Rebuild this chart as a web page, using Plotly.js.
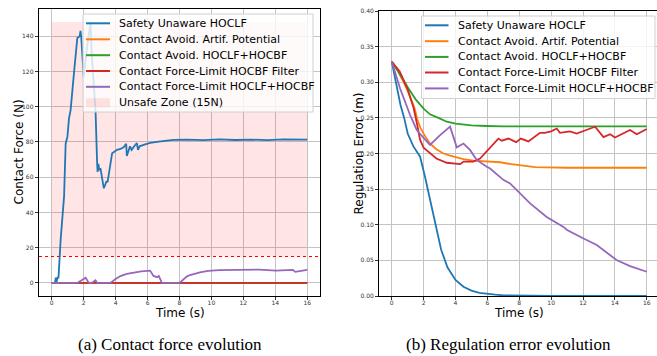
<!DOCTYPE html>
<html>
<head>
<meta charset="utf-8">
<script src="https://cdn.plot.ly/plotly-3.0.1.min.js"></script>
<style>
html,body{margin:0;padding:0;overflow:hidden;background:#fff;}
#chart{width:657px;height:356px;}
</style>
</head>
<body>
<div id="chart"></div>
<script>
// ---------- DATA ----------
const seriesNames = ['Safety Unaware HOCLF', 'Contact Avoid. Artif. Potential', 'Contact Avoid. HOCLF+HOCBF', 'Contact Force-Limit HOCBF Filter', 'Contact Force-Limit HOCLF+HOCBF'];
const zoneLabel = 'Unsafe Zone (15N)';
const forceLimit = 15;
const zoneTop = 148;
const zoneTime = [0, 16];
const captionA = '(a) Contact force evolution';
const captionB = '(b) Regulation error evolution';
const xTitle = 'Time (s)';
const yTitleA = 'Contact Force (N)';
const yTitleB = 'Regulation Error (m)';
const timeTicks = [0, 2, 4, 6, 8, 10, 12, 14, 16];
const forceTicks = [0, 20, 40, 60, 80, 100, 120, 140];
const errorTicks = [0, 0.05, 0.10, 0.15, 0.20, 0.25, 0.30, 0.35, 0.40];

// (a) contact force
const tForceUnaware = [0, 0.2, 0.25, 0.3, 0.36, 0.42, 0.56, 0.77, 0.87, 0.98, 1.08, 1.18, 1.4, 1.6, 1.75, 1.8, 1.85, 2.0, 2.2, 2.43, 2.5, 2.74, 2.84, 2.87, 2.92, 2.97, 3.05, 3.16, 3.26, 3.42, 3.5, 3.78, 4.09, 4.3, 4.5, 4.66, 4.7, 4.9, 5.0, 5.2, 5.33, 5.4, 5.5, 5.8, 6.16, 6.7, 7.2, 7.62, 8.5, 9.5, 10.5, 11.5, 12.5, 13.5, 14.5, 15.5, 16];
const forceUnaware = [0, 0, 3, 0.5, 3, 3, 25, 49, 79, 83, 93.5, 98, 120, 139, 140, 143, 139, 117, 133, 148, 130, 98, 68, 63, 67.5, 64, 65, 60, 53.7, 57.5, 57.5, 73.6, 75.5, 76, 77, 79, 72, 77.5, 75.5, 78, 79.3, 75.5, 77.5, 78.5, 79.5, 80.2, 80.7, 81.2, 81.3, 81.0, 81.4, 81.1, 81.3, 81.0, 81.4, 81.1, 81.3];
const tForceZero = [0, 16];
const forceArtif = [0, 0];
const forceAvoid = [0, 0];
const forceFilter = [0, 0];
const tForceLimit = [0, 1.6, 2.12, 2.32, 2.5, 2.74, 2.85, 3.67, 4.0, 4.3, 4.7, 5.12, 5.6, 6.16, 6.37, 6.6, 6.7, 6.9, 8.0, 8.45, 8.66, 9.28, 9.8, 10.5, 11.7, 13.0, 14.05, 15.1, 15.25, 16];
const forceLimitCtl = [0, 0, 3, 0, 0, 1.5, 0, 0, 2.2, 3.9, 5.1, 6.0, 6.6, 7.0, 4.0, 3.3, 4.0, 0, 0, 3.6, 4.5, 6.0, 6.8, 7.3, 7.3, 7.6, 7.0, 7.4, 6.3, 7.4];

// (b) regulation error
const tErrUnaware = [0, 0.3, 0.55, 0.78, 1.0, 1.36, 1.6, 1.78, 2.09, 2.4, 2.72, 2.9, 3.1, 3.5, 4.0, 4.5, 5.0, 5.5, 6.0, 6.5, 7, 8, 10, 12, 14, 16];
const errUnaware = [0.329, 0.296, 0.268, 0.250, 0.228, 0.210, 0.202, 0.1955, 0.167, 0.135, 0.102, 0.085, 0.065, 0.040, 0.0225, 0.013, 0.0075, 0.0045, 0.0028, 0.0018, 0.001, 0.0005, 0.0002, 0.0001, 0, 0];
const tErrArtif = [0, 0.4, 0.73, 1.0, 1.36, 1.45, 1.6, 1.8, 2.1, 2.4, 2.8, 3.24, 3.66, 4.5, 5.12, 6.0, 6.8, 7.5, 8.26, 9.0, 9.72, 11, 16];
const errArtif = [0.329, 0.315, 0.301, 0.288, 0.268, 0.262, 0.248, 0.236, 0.224, 0.214, 0.206, 0.200, 0.197, 0.192, 0.190, 0.189, 0.1877, 0.185, 0.1825, 0.181, 0.1806, 0.180, 0.180];
const tErrAvoid = [0, 0.5, 1.0, 1.5, 2.0, 2.4, 3.03, 3.45, 4.0, 4.5, 5.0, 5.94, 7, 16];
const errAvoid = [0.329, 0.312, 0.293, 0.276, 0.263, 0.255, 0.249, 0.2446, 0.242, 0.2405, 0.2395, 0.2386, 0.238, 0.238];
const tErrFilter = [0, 0.5, 1.0, 1.36, 1.6, 1.78, 2.0, 2.4, 2.8, 3.45, 4.08, 4.3, 4.5, 5.12, 5.54, 6.06, 6.38, 6.69, 6.9, 7.32, 7.8, 8.1, 8.57, 9.3, 9.6, 10.0, 10.35, 10.55, 11.18, 11.6, 12.2, 12.76, 13.28, 13.7, 14.0, 14.5, 14.95, 15.37, 16.0];
const errFilter = [0.329, 0.315, 0.29, 0.265, 0.24, 0.219, 0.208, 0.200, 0.193, 0.187, 0.1853, 0.185, 0.1886, 0.1886, 0.193, 0.206, 0.214, 0.221, 0.218, 0.221, 0.216, 0.221, 0.217, 0.229, 0.229, 0.231, 0.235, 0.229, 0.231, 0.228, 0.233, 0.2376, 0.223, 0.227, 0.2225, 0.228, 0.233, 0.227, 0.2344];
const tErrLimit = [0, 0.52, 1.15, 1.57, 2.0, 2.4, 3.0, 3.66, 4.08, 4.5, 4.91, 5.33, 5.96, 6.17, 7.0, 7.42, 8.68, 9.72, 10.77, 11.0, 12.0, 12.86, 14.1, 14.95, 16];
const errLimit = [0.329, 0.2915, 0.254, 0.233, 0.222, 0.212, 0.225, 0.2377, 0.2086, 0.214, 0.205, 0.191, 0.1815, 0.179, 0.163, 0.158, 0.130, 0.111, 0.097, 0.0926, 0.081, 0.0716, 0.0505, 0.042, 0.034];

// ---------- STYLE ----------
const colors = ['#1f77b4', '#ff7f0e', '#2ca02c', '#d62728', '#9467bd'];
const W = 657, H = 356;
const px = v => v / W;
const py = v => 1 - v / H;
const LW = 1.8;

function line(x, y, i, xa, ya) {
  return {x: x, y: y, type: 'scatter', mode: 'lines', name: seriesNames[i],
          line: {color: colors[i], width: LW}, xaxis: xa, yaxis: ya, hoverinfo: 'skip'};
}

const traces = [
  {x: [zoneTime[0], zoneTime[1], zoneTime[1], zoneTime[0], zoneTime[0]],
   y: [forceLimit, forceLimit, zoneTop, zoneTop, forceLimit],
   type: 'scatter', mode: 'lines', fill: 'toself', fillcolor: 'rgba(255,0,0,0.1)',
   line: {width: 0, color: 'rgba(0,0,0,0)'}, name: zoneLabel, xaxis: 'x', yaxis: 'y', hoverinfo: 'skip'},
  line(tForceUnaware, forceUnaware, 0, 'x', 'y'),
  line(tForceZero, forceArtif, 1, 'x', 'y'),
  line(tForceZero, forceAvoid, 2, 'x', 'y'),
  line(tForceZero, forceFilter, 3, 'x', 'y'),
  line(tForceLimit, forceLimitCtl, 4, 'x', 'y'),
  line(tErrUnaware, errUnaware, 0, 'x2', 'y2'),
  line(tErrArtif, errArtif, 1, 'x2', 'y2'),
  line(tErrAvoid, errAvoid, 2, 'x2', 'y2'),
  line(tErrFilter, errFilter, 3, 'x2', 'y2'),
  line(tErrLimit, errLimit, 4, 'x2', 'y2')
];

const tickFont = {family: 'DejaVu Sans', size: 6, color: '#333'};
const axBase = {
  showgrid: true, gridcolor: '#c4c4c4', gridwidth: 1,
  showline: true, linecolor: '#000', linewidth: 1.3,
  ticks: 'outside', ticklen: 3, tickwidth: 0.8, tickcolor: '#000',
  tickfont: tickFont, zeroline: false, automargin: false, fixedrange: true
};

const shapes = [
  {type: 'line', xref: 'x domain', yref: 'y', x0: 0, x1: 1, y0: forceLimit, y1: forceLimit,
   line: {color: 'red', width: 1.2, dash: 'dot'}, layer: 'above'}
];
const annotations = [];

function addLegend(box, rowY, handleX0, handleX1, textX, labels, withZone) {
  shapes.push({type: 'rect', xref: 'paper', yref: 'paper',
    x0: px(box[0]), x1: px(box[1]), y0: py(box[3]), y1: py(box[2]),
    fillcolor: 'rgba(255,255,255,0.8)', line: {color: '#d0d0d0', width: 1}, layer: 'above'});
  labels.forEach((lab, i) => {
    const y = rowY[i];
    if (withZone && i === labels.length - 1) {
      shapes.push({type: 'rect', xref: 'paper', yref: 'paper',
        x0: px(handleX0), x1: px(handleX1), y0: py(y + 4.5), y1: py(y - 4.5),
        fillcolor: 'rgba(255,0,0,0.1)', line: {width: 0}, layer: 'above'});
    } else {
      shapes.push({type: 'line', xref: 'paper', yref: 'paper',
        x0: px(handleX0), x1: px(handleX1), y0: py(y), y1: py(y),
        line: {color: colors[i], width: 2}, layer: 'above'});
    }
    annotations.push({xref: 'paper', yref: 'paper', x: px(textX), y: py(y), text: lab,
      xanchor: 'left', yanchor: 'middle', showarrow: false,
      font: {family: 'DejaVu Sans', size: 11, color: '#000'}});
  });
}

addLegend([83, 313, 14, 112], [23.3, 39.3, 55.2, 71, 86.8, 102.7], 86, 110, 117, seriesNames.concat([zoneLabel]), true);
addLegend([421.5, 655, 16, 98.5], [25.3, 41.2, 56.9, 72.5, 88.4], 425, 448.5, 455.5, seriesNames, false);

const titleFont = {family: 'DejaVu Sans', size: 12, color: '#000'};
annotations.push(
  {xref: 'paper', yref: 'paper', x: px(179.5), y: py(313), text: xTitle, showarrow: false, xanchor: 'center', yanchor: 'middle', font: titleFont},
  {xref: 'paper', yref: 'paper', x: px(518.5), y: py(313), text: xTitle, showarrow: false, xanchor: 'center', yanchor: 'middle', font: titleFont},
  {xref: 'paper', yref: 'paper', x: px(18), y: py(152.5), text: yTitleA, textangle: -90, showarrow: false, xanchor: 'center', yanchor: 'middle', font: titleFont},
  {xref: 'paper', yref: 'paper', x: px(358), y: py(153.5), text: yTitleB, textangle: -90, showarrow: false, xanchor: 'center', yanchor: 'middle', font: titleFont},
  {xref: 'paper', yref: 'paper', x: px(170), y: py(344.5), text: captionA, showarrow: false, xanchor: 'center', yanchor: 'middle', font: {family: 'Liberation Serif', size: 17, color: '#000'}},
  {xref: 'paper', yref: 'paper', x: px(508), y: py(344.5), text: captionB, showarrow: false, xanchor: 'center', yanchor: 'middle', font: {family: 'Liberation Serif', size: 17, color: '#000'}}
);

const layout = {
  width: W, height: H,
  margin: {l: 0, r: 0, t: 0, b: 0, pad: 0},
  paper_bgcolor: '#fff', plot_bgcolor: '#fff',
  showlegend: false,
  font: {family: 'DejaVu Sans'},
  xaxis: Object.assign({}, axBase, {domain: [px(39), px(320)], range: [-0.8, 16.8], tickvals: timeTicks, anchor: 'y', mirror: true, ticklabelstandoff: -3}),
  yaxis: Object.assign({}, axBase, {domain: [py(296), py(9)], range: [-7.4, 155.4], tickvals: forceTicks, anchor: 'x', mirror: true}),
  xaxis2: Object.assign({}, axBase, {domain: [px(379.3), 1], range: [-0.78, 16.64], tickvals: timeTicks, anchor: 'y2', mirror: true, ticklabelstandoff: -3}),
  yaxis2: Object.assign({}, axBase, {domain: [py(296), py(11)], range: [0, 0.4], tickvals: errorTicks, tickformat: '.2f', anchor: 'x2', mirror: false}),
  shapes: shapes,
  annotations: annotations
};

Plotly.newPlot('chart', traces, layout, {staticPlot: true, displayModeBar: false});
</script>
</body>
</html>
